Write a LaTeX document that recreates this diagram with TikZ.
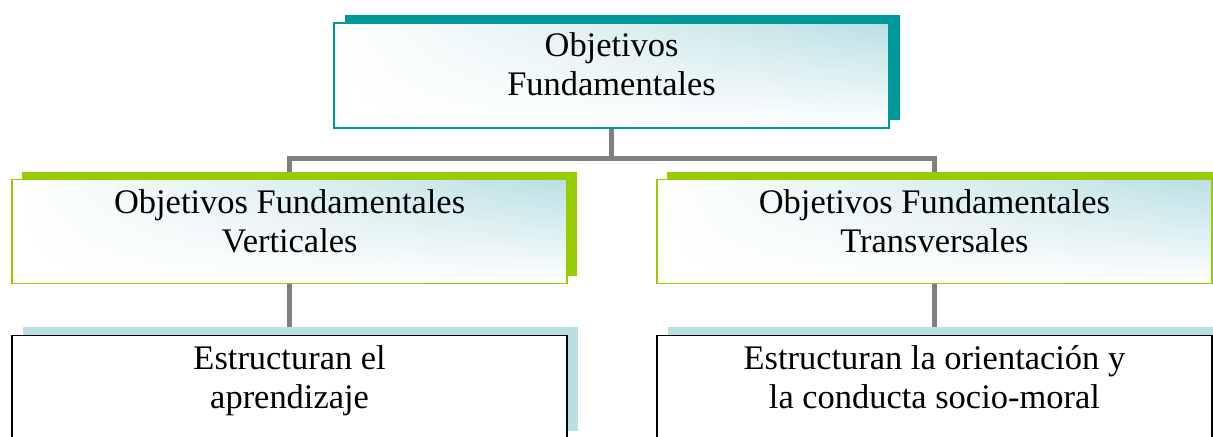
\documentclass[tikz,border=0pt]{standalone}
\usepackage{fontspec}
\setmainfont{Liberation Serif}
\usetikzlibrary{positioning,shadows,shadings,backgrounds}

\definecolor{tealshadow}{HTML}{009999}
\definecolor{limegreen}{HTML}{99CC00}
\definecolor{paleblue}{HTML}{B9DFE3}
\definecolor{linegray}{HTML}{808080}

\tikzset{box/.style={rectangle,inner sep=0pt,minimum width=13.875cm,minimum height=2.6cm,line width=1pt}}
\tikzset{softfill/.style={shade,upper left=white,upper right=paleblue,lower left=white,lower right=white}}
\tikzset{topbox/.style={box,draw=tealshadow,softfill,minimum height=2.625cm,general shadow={fill=tealshadow,shadow xshift=0.28cm,shadow yshift=0.2cm}}}
\tikzset{midbox/.style={box,draw=limegreen,softfill,general shadow={fill=limegreen,shadow xshift=0.25cm,shadow yshift=0.18cm}}}
\tikzset{lowbox/.style={box,draw=black,fill=white,general shadow={fill=paleblue,shadow xshift=0.27cm,shadow yshift=0.2cm}}}
\tikzset{boxtext/.style={align=center,inner sep=0pt,font=\fontsize{24.5}{27.7}\selectfont}}
\tikzset{conn/.style={line width=0.125cm,linegray}}

\begin{document}
\begin{tikzpicture}
    \useasboundingbox (0,0) rectangle (30.325,-10.9);
    % draw the boxes
    \node[topbox] (of) at (15.29,-1.89) {};
    \node[midbox] (ofv) at (7.24,-5.78) {};
    \node[midbox] (oft) at (23.36,-5.78) {};
    \node[lowbox] (ofvdesc) at (7.24,-9.68) {};
    \node[lowbox] (oftdesc) at (23.36,-9.68) {};
    % the texts (top aligned, as in a text box)
    \node[boxtext,below=0.26cm of of.north] (ofText) {Objetivos\\Fundamentales};
    \node[boxtext,below=0.26cm of ofv.north] (ofvText) {Objetivos Fundamentales\\Verticales};
    \node[boxtext,below=0.26cm of oft.north] (oftText) {Objetivos Fundamentales\\Transversales};
    \node[boxtext,below=0.26cm of ofvdesc.north] (ofvdescText) {Estructuran el\\aprendizaje};
    \node[boxtext,below=0.26cm of oftdesc.north] (oftdescText) {Estructuran la orientación y\\la conducta socio-moral};
    % draw the connectors behind everything
    \begin{scope}[on background layer]
        \draw[conn] (of.south) -- ++(0,-0.74) -| (ofv.north);
        \draw[conn] (of.south) -- ++(0,-0.74) -| (oft.north);
        \draw[conn] (ofv.south) -- (ofvdesc.north);
        \draw[conn] (oft.south) -- (oftdesc.north);
    \end{scope}
\end{tikzpicture}
\end{document}
